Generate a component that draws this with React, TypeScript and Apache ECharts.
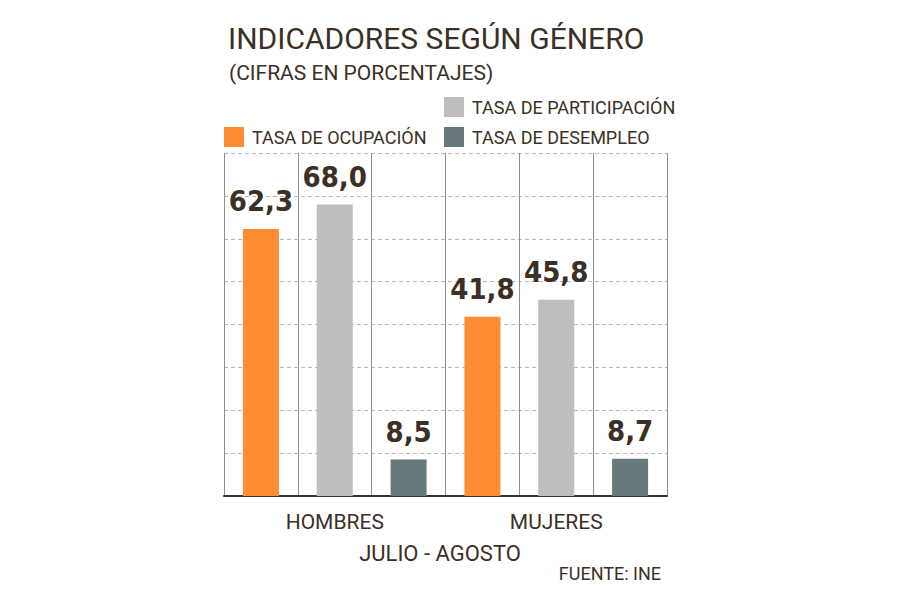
import React, { useEffect, useRef } from "react";
import * as echarts from "echarts";

const groups = ["HOMBRES", "MUJERES"];
const seriesNames = ["TASA DE OCUPACIÓN", "TASA DE PARTICIPACIÓN", "TASA DE DESEMPLEO"];
const ocupacion = [62.3, 41.8];
const participacion = [68.0, 45.8];
const desempleo = [8.5, 8.7];
const seriesColors = ["#FE8C32", "#BEBEBC", "#67797B"];
const yTicks = { min: 0, max: 80, interval: 10 };

const TEXT = "#3B2F26";

export default function App() {
  const ref = useRef<HTMLDivElement>(null);
  useEffect(() => {
    if (!ref.current) return;
    const chart = echarts.init(ref.current, undefined, { renderer: "svg" });
    const values = [ocupacion, participacion, desempleo];
    const columns: string[] = [];
    groups.forEach((g) => seriesNames.forEach((s) => columns.push(g + "|" + s)));
    const series = seriesNames.map((name, si) => ({
      name,
      type: "bar",
      stack: "all",
      barWidth: 36,
      itemStyle: { color: seriesColors[si] },
      data: columns.map((c) => {
        const [g, s] = c.split("|");
        return s === name ? values[si][groups.indexOf(g)] : "-";
      }),
      label: {
        show: true,
        position: "top",
        distance: 13,
        formatter: (p: any) => Number(p.value).toFixed(1).replace(".", ","),
        fontFamily:
          "'Noto Sans ExtraCondensed', 'Noto Sans Condensed', 'DejaVu Sans Condensed', sans-serif",
        fontWeight: "bold",
        fontSize: 29,
        color: TEXT,
      },
    }));
    chart.setOption({
      animation: false,
      title: [
        {
          text: "INDICADORES SEGÚN GÉNERO",
          left: 223,
          top: 18,
          textStyle: { fontFamily: "Roboto", fontWeight: 400, fontSize: 30, color: TEXT },
        },
        {
          text: "(CIFRAS EN PORCENTAJES)",
          left: 224,
          top: 57,
          textStyle: { fontFamily: "Roboto", fontWeight: 400, fontSize: 21, color: TEXT },
        },
        {
          text: "JULIO - AGOSTO",
          left: 435,
          textAlign: "center",
          top: 537,
          textStyle: { fontFamily: "Roboto", fontWeight: 400, fontSize: 22, color: TEXT },
        },
        {
          text: "FUENTE: INE",
          right: 234,
          top: 559,
          textStyle: { fontFamily: "Roboto", fontWeight: 400, fontSize: 18, color: TEXT },
        },
      ],
      legend: [
        {
          data: [seriesNames[0]],
          left: 219,
          top: 122,
          icon: "rect",
          itemWidth: 20,
          itemHeight: 20,
          textStyle: { fontFamily: "Roboto", fontSize: 18, color: TEXT, padding: [0, 0, 0, 3] },
        },
        {
          data: [seriesNames[1], seriesNames[2]],
          orient: "vertical",
          left: 439,
          top: 92,
          itemGap: 10,
          icon: "rect",
          itemWidth: 20,
          itemHeight: 20,
          textStyle: { fontFamily: "Roboto", fontSize: 18, color: TEXT, padding: [0, 0, 0, 3] },
        },
      ],
      grid: { left: 224, right: 233, top: 153, bottom: 104, containLabel: false },
      xAxis: {
        type: "category",
        data: columns,
        axisLine: { show: true, lineStyle: { color: "#3B2F26", width: 2 } },
        axisTick: { show: false },
        splitLine: { show: true, interval: 0, lineStyle: { color: "#8E8E8E", width: 1 } },
        axisLabel: {
          interval: (i: number) => i % 3 === 1,
          formatter: (v: string) => v.split("|")[0],
          fontFamily: "Roboto",
          fontWeight: 400,
          fontSize: 21,
          color: TEXT,
          margin: 15,
        },
      },
      yAxis: {
        type: "value",
        min: yTicks.min,
        max: yTicks.max,
        interval: yTicks.interval,
        axisLine: { show: false },
        axisTick: { show: false },
        axisLabel: { show: false },
        splitLine: { show: true, lineStyle: { color: "#B8B8B8", type: [4, 3], width: 1 } },
      },
      series,
    });
    return () => chart.dispose();
  }, []);
  return (
    <div
      ref={ref}
      style={{ position: "fixed", left: 0, top: 0, width: 900, height: 600, background: "#fff" }}
    />
  );
}
